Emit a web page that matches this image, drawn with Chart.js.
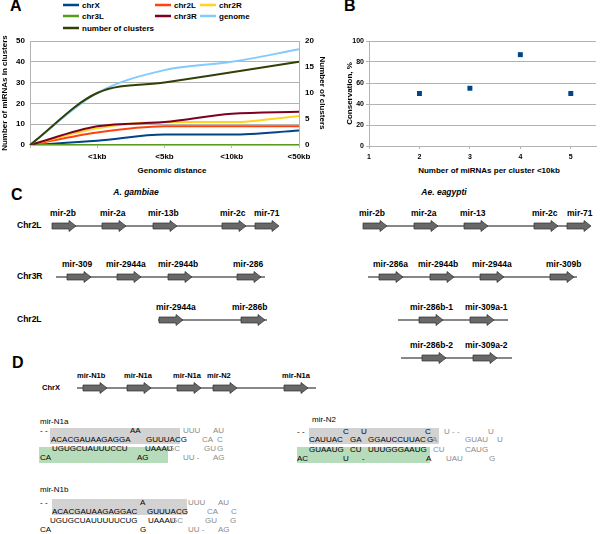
<!DOCTYPE html>
<html><head><meta charset="utf-8">
<script src="https://cdn.jsdelivr.net/npm/chart.js@4/dist/chart.umd.min.js"></script>
<style>
html,body{margin:0;padding:0;background:#fff;}
#page{position:relative;width:600px;height:534px;overflow:hidden;font-family:"Liberation Sans",Arial,sans-serif;}
canvas{position:absolute;}
#svg{position:absolute;left:0;top:0;}
</style></head>
<body><div id="page">
<svg id="svg" width="600" height="534" xmlns="http://www.w3.org/2000/svg"></svg>
<canvas id="cA" width="335" height="150" style="left:0;top:30px"></canvas>
<canvas id="cB" width="260" height="155" style="left:340px;top:30px"></canvas>
</div>
<script>
// ---- Panel A data ----
const categories = ['', '<1kb', '<5kb', '<10kb', '<50kb'];
const chrX   = [0, 2, 5, 5, 7];
const chr2L  = [0, 6, 9, 9, 9];
const chr2R  = [0, 8, 11, 11, 14];
const chr3L  = [0, 0, 0, 0, 0];
const chr3R  = [0, 9, 11, 15, 16];
const genome = [0, 25, 36, 40, 46];
const numberOfClusters = [0, 10, 12, 14, 16];
const leftTicks = [0, 10, 20, 30, 40, 50];
const rightTicks = [0, 5, 10, 15, 20];
// ---- Panel B data ----
const miRNAsPerCluster = [2, 3, 4, 5];
const conservation = [50, 55, 87, 50];
const xTicksB = [1, 2, 3, 4, 5];
const yTicksB = [0, 20, 40, 60, 80, 100];

const FONT = '"Liberation Sans", Arial, sans-serif';
Chart.defaults.font.family = FONT;
Chart.defaults.color = '#000';

const seriesA = [
  {label:'chrX', data:chrX, color:'#004586', axis:'y'},
  {label:'chr2L', data:chr2L, color:'#ff420e', axis:'y'},
  {label:'chr2R', data:chr2R, color:'#ffd320', axis:'y'},
  {label:'chr3L', data:chr3L, color:'#579d1c', axis:'y'},
  {label:'chr3R', data:chr3R, color:'#7e0021', axis:'y'},
  {label:'genome', data:genome, color:'#83caff', axis:'y'},
  {label:'number of clusters', data:numberOfClusters, color:'#314004', axis:'y1'}
];
const GRID = '#b3b3b3';
const bold = (s)=>({size:s, weight:'bold', family:FONT});

new Chart(document.getElementById('cA'), {
  type:'line',
  data:{labels:categories, datasets:seriesA.map((s,i)=>({
    label:s.label, data:s.data, borderColor:s.color, backgroundColor:s.color,
    yAxisID:s.axis, order: seriesA.length - i
  }))},
  options:{
    responsive:false, animation:false,
    layout:{padding:{top:11, left:0, right:0, bottom:0}},
    plugins:{legend:{display:false}, tooltip:{enabled:false}},
    elements:{point:{radius:0}, line:{borderWidth:2, cubicInterpolationMode:'monotone'}},
    scales:{
      x:{offset:false, grid:{drawOnChartArea:false, drawTicks:true, tickLength:3, color:GRID}, border:{display:true, color:GRID},
         ticks:{font:bold(8), padding:4, maxRotation:0, autoSkip:false},
         title:{display:false},
         afterFit(s){s.height=35;}},
      y:{position:'left', min:0, max:50,
         afterBuildTicks(s){s.ticks = leftTicks.map(v=>({value:v}));},
         ticks:{font:bold(8), padding:5},
         grid:{color:GRID, drawTicks:false}, border:{color:GRID},
         title:{display:true, text:'Number of miRNAs in clusters', font:bold(8), padding:0},
         afterFit(s){s.width=30;}},
      y1:{position:'right', min:0, max:20,
         afterBuildTicks(s){s.ticks = rightTicks.map(v=>({value:v}));},
         ticks:{font:bold(8), padding:6},
         grid:{display:false, drawTicks:false}, border:{display:true, color:GRID},
         title:{display:true, text:'Number of clusters', font:bold(8), padding:{top:8,bottom:0}},
         afterFit(s){s.width=36;}}
    }
  }
});

new Chart(document.getElementById('cB'), {
  type:'scatter',
  data:{datasets:[{label:'Conservation', data:miRNAsPerCluster.map((x,i)=>({x:x, y:conservation[i]})),
    pointStyle:'rect', pointRadius:3.5, backgroundColor:'#004586', borderColor:'#004586', borderWidth:0}]},
  options:{
    responsive:false, animation:false,
    layout:{padding:{top:11, left:0, right:0, bottom:0}},
    plugins:{legend:{display:false}, tooltip:{enabled:false}},
    scales:{
      x:{type:'linear', min:1, max:5.5,
         afterBuildTicks(s){s.ticks = xTicksB.map(v=>({value:v}));},
         ticks:{font:bold(7), padding:4},
         grid:{drawOnChartArea:false, drawTicks:true, tickLength:3, color:GRID},
         border:{color:GRID},
         title:{display:false},
         afterFit(s){s.height=39;}},
      y:{min:0, max:100,
         afterBuildTicks(s){s.ticks = yTicksB.map(v=>({value:v}));},
         ticks:{font:bold(7), padding:2},
         grid:{color:GRID, tickLength:3}, border:{color:GRID},
         title:{display:true, text:'Conservation, %', font:bold(8), padding:{top:5,bottom:0}},
         afterFit(s){s.width=29;}}
    }
  }
});

// ---- SVG: legend, panel labels, axis titles, diagrams ----
const svg = document.getElementById('svg');
const NS = 'http://www.w3.org/2000/svg';
function el(tag, attrs, text){
  const e = document.createElementNS(NS, tag);
  for (const k in attrs) e.setAttribute(k, attrs[k]);
  if (text !== undefined) e.textContent = text;
  svg.appendChild(e); return e;
}
function txt(x, y, s, o={}){
  return el('text', {x:x, y:y, 'dominant-baseline':'middle', 'font-family':FONT,
    'font-size':o.size||9, 'font-weight':o.weight||'normal', 'font-style':o.style||'normal',
    fill:o.fill||'#000', 'text-anchor':o.anchor||'start'}, s);
}
// legend for A (built from the series)
const legPos = [[63,5],[155,5],[200,5],[63,16],[155,16],[200,16],[63,28]];
seriesA.forEach((s,i)=>{
  const [x,y] = legPos[i];
  el('line', {x1:x, y1:y, x2:x+16, y2:y, stroke:s.color, 'stroke-width':2.5});
  txt(x+19, y+0.5, s.label, {size:8, weight:'bold'});
});
// x-axis titles
txt(172, 171, 'Genomic distance', {size:8, weight:'bold', anchor:'middle'});
txt(489, 171, 'Number of miRNAs per cluster <10kb', {size:8, weight:'bold', anchor:'middle'});
// panel letters
txt(10, 7, 'A', {size:16, weight:'bold'});
txt(344, 7, 'B', {size:16, weight:'bold'});
txt(11, 196, 'C', {size:16, weight:'bold'});
txt(12, 364, 'D', {size:16, weight:'bold'});

function arrow(x, y){
  const L=24, hl=7, bh=3, hh=5.5;
  el('path', {d:`M${x},${y-bh} L${x+L-hl},${y-bh} L${x+L-hl},${y-hh} L${x+L},${y} L${x+L-hl},${y+hh} L${x+L-hl},${y+bh} L${x},${y+bh} Z`,
    fill:'#686868', stroke:'#2e2e2e', 'stroke-width':0.7});
}
function hline(x1, x2, y){ el('line', {x1:x1, y1:y, x2:x2, y2:y, stroke:'#111', 'stroke-width':1.1}); }
function locus(row){
  hline(row.l1, row.l2, row.y);
  row.genes.forEach(g=>{ arrow(g[0], row.y); txt(g[1], row.y-12, g[2], {size:row.fs||8.5, weight:'bold'}); });
  if (row.name) txt(row.nx||17, row.y, row.name, {size:row.fs||8.5, weight:'bold'});
}
txt(136, 193, 'A. gambiae', {size:8.5, weight:'bold', style:'italic', anchor:'middle'});
txt(444, 193, 'Ae. eagypti', {size:8.5, weight:'bold', style:'italic', anchor:'middle'});

locus({name:'Chr2L', y:226, l1:75, l2:256, genes:[[52,50,'mir-2b'],[102,100,'mir-2a'],[153,148,'mir-13b'],[222,220,'mir-2c'],[255,254,'mir-71']]});
locus({name:'Chr3R', y:277, l1:56, l2:265, genes:[[67,62,'mir-309'],[117,106,'mir-2944a'],[168,158,'mir-2944b'],[237,233,'mir-286']]});
locus({name:'Chr2L', y:320, l1:158, l2:267, genes:[[159,156,'mir-2944a'],[241,232,'mir-286b']]});

locus({y:226, l1:386, l2:567, genes:[[363,359,'mir-2b'],[414,411,'mir-2a'],[464,460,'mir-13'],[534,532,'mir-2c'],[567,567,'mir-71']]});
locus({y:277, l1:368, l2:577, genes:[[379,373,'mir-286a'],[430,418,'mir-2944b'],[480,472,'mir-2944a'],[550,546,'mir-309b']]});
locus({y:320, l1:398, l2:508, genes:[[419,410,'mir-286b-1'],[470,465,'mir-309a-1']]});
locus({y:358, l1:401, l2:512, genes:[[422,410,'mir-286b-2'],[473,465,'mir-309a-2']]});

locus({name:'ChrX', nx:42, fs:7.5, y:388, l1:77, l2:316, genes:[[83,77,'mir-N1b'],[127,124,'mir-N1a'],[177,173,'mir-N1a'],[213,207,'mir-N2'],[284,282,'mir-N1a']]});

// hairpins
const GR='#8a8a8a';
function seq(x,y,s,c){ txt(x,y,s,{size:8, fill:c||'#000'}); }
// mir-N1a
txt(40, 422, 'mir-N1a', {size:8});
el('rect',{x:50,y:428,width:130,height:16,fill:'#d2d2d2'});
el('rect',{x:39,y:447,width:129,height:16,fill:'#b7dcbb'});
seq(40,431,'- -'); seq(130,431,'AA'); seq(183,431,'UUU',GR); seq(213,431,'AU',GR);
seq(51,440,'ACACGAUAAGAGGA'); seq(146,440,'GUUUACG'); seq(202,440,'CA',GR); seq(217,440,'C',GR);
seq(52,449,'UGUGCUAUUUCCU'); seq(145,449,'UAAAU'); seq(168,449,'GC',GR); seq(204,449,'GU',GR); seq(217,449,'G',GR);
seq(40,458,'CA'); seq(137,458,'AG'); seq(183,458,'UU -',GR); seq(213,458,'AG',GR);
// mir-N1b
txt(40, 490, 'mir-N1b', {size:8});
el('rect',{x:52,y:499,width:135,height:16,fill:'#d2d2d2'});
seq(40,503,'- -'); seq(140,503,'A'); seq(188,503,'UUU',GR); seq(218,503,'AU',GR);
seq(52,512,'ACACGAUAAGAGGAC'); seq(147,512,'GUUUACG'); seq(207,512,'CA',GR); seq(231,512,'C',GR);
seq(50,521,'UGUGCUAUUUUUCUG'); seq(148,521,'UAAAU'); seq(171,521,'GC',GR); seq(205,521,'GU',GR); seq(230,521,'G',GR);
seq(40,530,'CA'); seq(140,530,'G'); seq(188,530,'UU -',GR); seq(218,530,'AG',GR);
// mir-N2
txt(312, 420, 'mir-N2', {size:8});
el('rect',{x:309,y:428,width:130,height:16,fill:'#d2d2d2'});
el('rect',{x:297,y:447,width:133,height:16,fill:'#b7dcbb'});
seq(297,432,'- -'); seq(343,432,'C'); seq(361,432,'U'); seq(425,432,'C'); seq(444,432,'U - -',GR); seq(488,432,'U',GR);
seq(309,440,'CAUUAC'); seq(350,440,'GA'); seq(368,440,'GGAUCCUUAC'); seq(427,440,'G'); seq(432,440,'A',GR); seq(465,440,'GUAU',GR); seq(497,440,'U',GR);
seq(309,450,'GUAAUG'); seq(350,450,'CU'); seq(368,450,'UUUGGGAAUG'); seq(433,450,'CU',GR); seq(465,450,'CAUG',GR);
seq(297,459,'AC'); seq(343,459,'U'); seq(362,459,'-'); seq(426,459,'A'); seq(446,459,'UAU',GR); seq(489,459,'G',GR);
</script>
</body></html>
